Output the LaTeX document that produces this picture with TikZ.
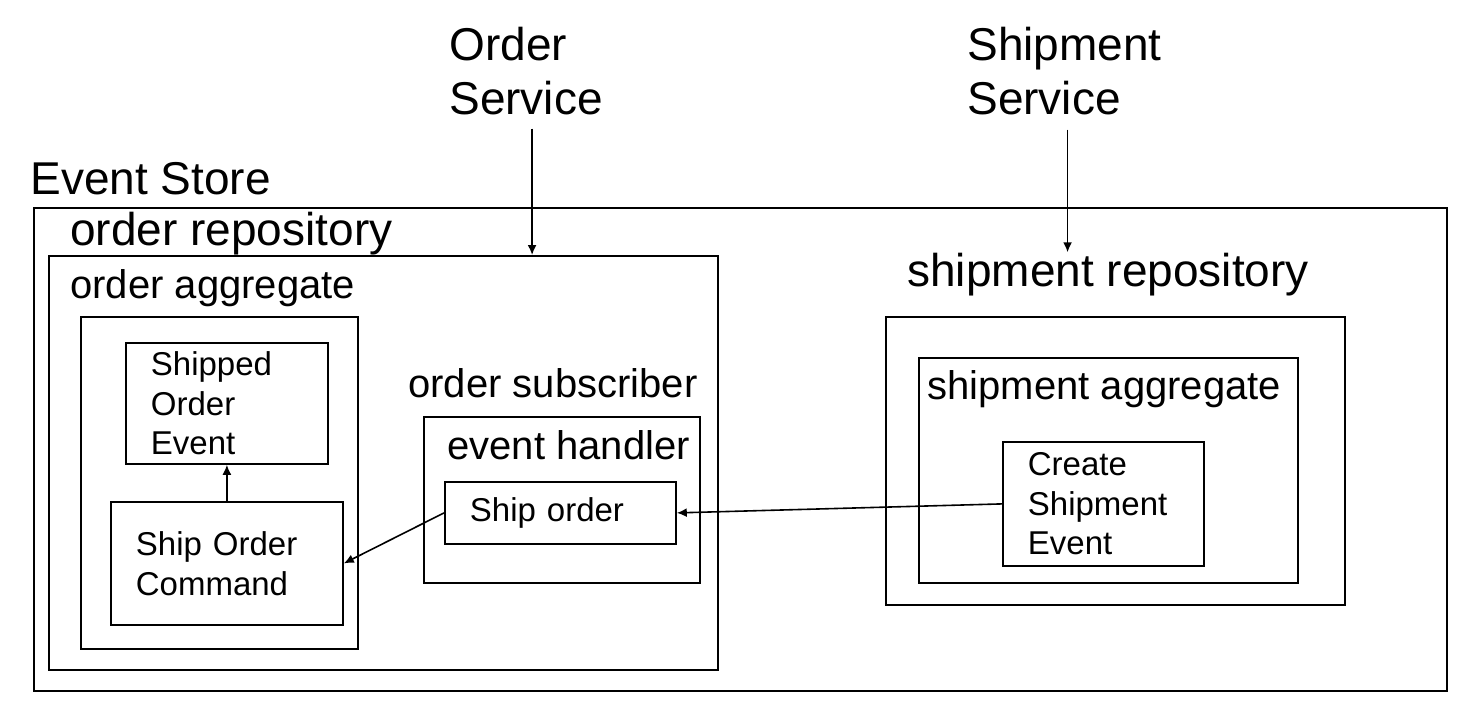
\documentclass[tikz,border=0pt]{standalone}
\usepackage{fontspec}
\setmainfont{Liberation Sans}
\usetikzlibrary{arrows.meta, positioning}

\begin{document}
\begin{tikzpicture}[
    x=0.5pt, y=-0.5pt,
    >={Latex[length=5pt,width=4.5pt]},
    frame/.style={draw, line width=0.9pt, anchor=north west, inner sep=0pt},
    box/.style={frame, align=left, inner xsep=12.5pt, inner ysep=0pt, font=\fontsize{16.5}{19.8}\selectfont},
    biglabel/.style={anchor=base west, inner sep=0pt, font=\fontsize{23}{27.6}\selectfont},
    midlabel/.style={anchor=base west, inner sep=0pt, font=\fontsize{20}{24}\selectfont},
    service/.style={anchor=north west, align=left, inner sep=0pt, font=\fontsize{23}{27}\selectfont},
    arr/.style={->, line width=0.8pt}
]

\useasboundingbox (0,0) rectangle (1474,712);

% Containers
\node[frame, minimum width=706.5pt, minimum height=241.5pt] (store) at (33,207) {};
\node[frame, minimum width=334.5pt, minimum height=207pt] (orderrepo) at (48,255) {};
\node[frame, minimum width=138.5pt, minimum height=166pt] (orderagg) at (80,316) {};
\node[frame, minimum width=138pt, minimum height=83pt] (handler) at (423,416) {};
\node[frame, minimum width=229.5pt, minimum height=144pt] (shiprepo) at (885,316) {};
\node[frame, minimum width=189.5pt, minimum height=112.5pt] (shipagg) at (918,357) {};

% Boxes with text
\node[box, text width=76pt, minimum height=60.5pt] (shipped) at (125,342) {Shipped\\Order\\Event};
\node[box, text width=91pt, minimum height=61.5pt] (command) at (110,501) {Ship Order\\Command};
\node[box, text width=90.5pt, minimum height=31pt] (shiporder) at (444,481) {Ship order};
\node[box, text width=75.5pt, minimum height=62pt] (create) at (1002,441) {Create\\Shipment\\Event};

% Labels
\node[biglabel] (storelbl) at (30,194) {Event Store};
\node[biglabel] (orderrepolbl) at (70,245) {order repository};
\node[midlabel] (orderagglbl) at (70,298) {order aggregate};
\node[midlabel] (subscriberlbl) at (408,397) {order subscriber};
\node[midlabel] (handlerlbl) at (447,459) {event handler};
\node[biglabel] (shiprepolbl) at (907,286) {shipment repository};
\node[midlabel] (shipagglbl) at (927,399) {shipment aggregate};

% Services
\node[service] (osvc) at (449,27) {Order\\Service};
\node[service] (ssvc) at (967,27) {Shipment\\Service};
\coordinate[below right=6.5pt and 3pt of osvc.south] (osvcout);
\coordinate[below right=7pt and 1.5pt of ssvc.south] (ssvcout);

% Arrows
\draw[arr] (osvcout) -- (osvcout |- orderrepo.north);
\draw[arr] (ssvcout) -- (ssvcout |- shiprepolbl.north);
\draw[arr] (command.north) -- (shipped.south);
\draw[arr] (create.west) -- (shiporder.east);
\draw[arr] (shiporder.west) -- (command.east);

\end{tikzpicture}
\end{document}
